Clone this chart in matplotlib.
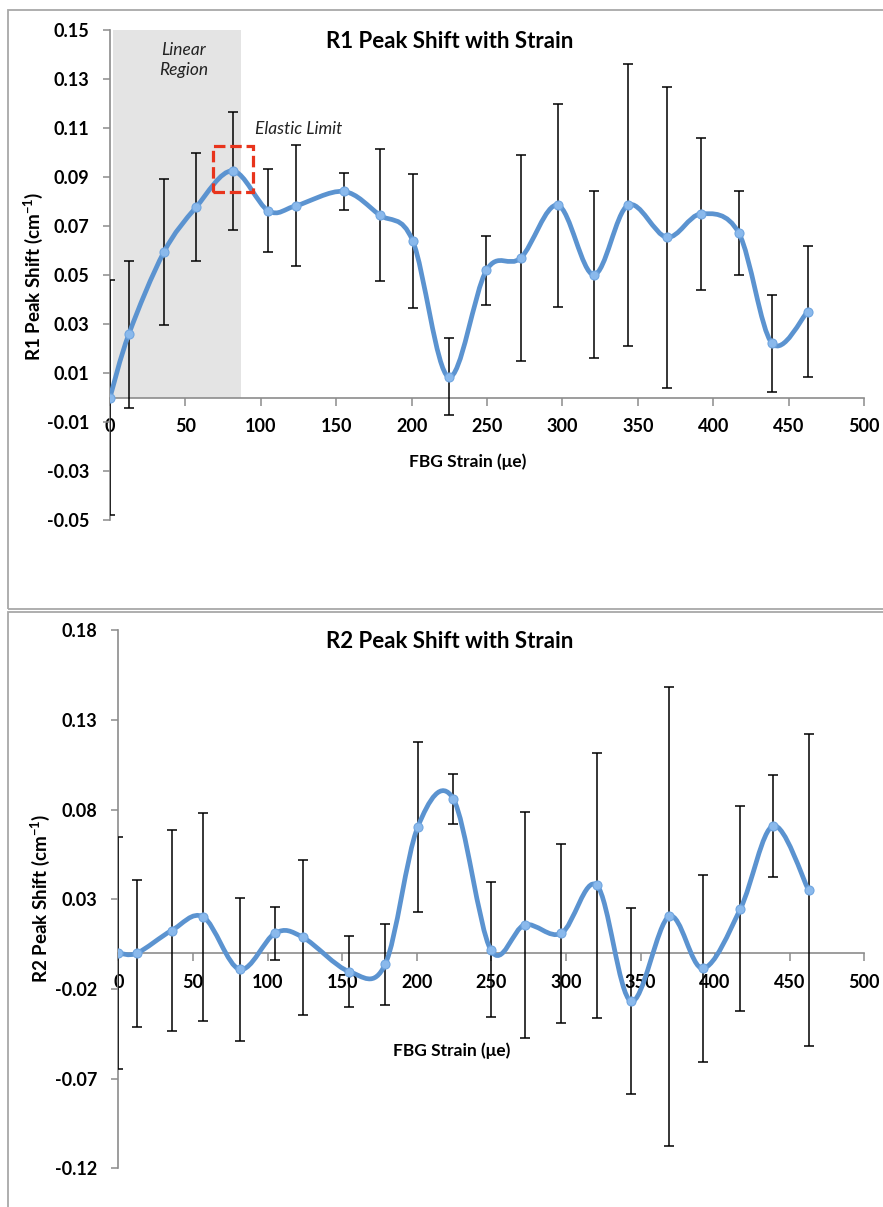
import numpy as np
import matplotlib
matplotlib.use("Agg")
import matplotlib.pyplot as plt
from matplotlib.path import Path
from matplotlib.patches import PathPatch, Rectangle

# -----------------------------
# DATA
# -----------------------------
strain = [0, 12.5, 35.7, 57, 81.3, 105, 123.5, 154.9, 178.8, 200.7, 224.5,
          249.6, 272.4, 297, 320.8, 343.5, 369.2, 391.8, 417, 439, 462.6]

r1_shift = [0.0, 0.0259, 0.0593, 0.0776, 0.0925, 0.0762, 0.0783, 0.0841, 0.0745,
            0.064, 0.0084, 0.0519, 0.057, 0.0785, 0.0501, 0.0785, 0.0654,
            0.0749, 0.0671, 0.0221, 0.035]
r1_err = [0.048, 0.030, 0.0297, 0.022, 0.024, 0.017, 0.0248, 0.0075, 0.027,
          0.0273, 0.0157, 0.014, 0.042, 0.0415, 0.034, 0.0575, 0.0615, 0.0312,
          0.0172, 0.0197, 0.0268]

r2_shift = [0.0, 0.0, 0.0126, 0.0201, -0.0091, 0.0111, 0.0089, -0.0104, -0.0063,
            0.0704, 0.086, 0.0018, 0.0158, 0.0111, 0.0377, -0.0268, 0.0205,
            -0.0085, 0.0248, 0.071, 0.0352]
r2_err = [0.0645, 0.041, 0.056, 0.058, 0.040, 0.0147, 0.0432, 0.0198, 0.0228,
          0.0475, 0.0138, 0.0376, 0.063, 0.05, 0.074, 0.052, 0.128, 0.052,
          0.057, 0.0283, 0.0869]

x_ticks = [0, 50, 100, 150, 200, 250, 300, 350, 400, 450, 500]
r1_yticks = [-0.05, -0.03, -0.01, 0.01, 0.03, 0.05, 0.07, 0.09, 0.11, 0.13, 0.15]
r2_yticks = [-0.12, -0.07, -0.02, 0.03, 0.08, 0.13, 0.18]

linear_region = (2, 87)          # strain range of the shaded box
elastic_box = (68.5, 95, 0.0837, 0.1026)

# -----------------------------
# STYLE
# -----------------------------
FONT = "Lato"
plt.rcParams["font.family"] = [FONT, "DejaVu Sans"]
plt.rcParams["mathtext.fontset"] = "custom"
plt.rcParams["mathtext.rm"] = FONT
plt.rcParams["mathtext.bf"] = FONT + ":bold"

LINE_C = "#5b93d0"
MARK_C = "#8ab9ec"
AXIS_C = "#8c8c8c"
FRAME_C = "#a8a8a8"


def smooth_path(x, y):
    # Excel-like smoothed line: Catmull-Rom as cubic Bezier segments
    pts = np.column_stack([x, y]).astype(float)
    n = len(pts)
    verts = [pts[0]]
    codes = [Path.MOVETO]
    for i in range(n - 1):
        p0 = pts[i - 1] if i > 0 else pts[i]
        p1 = pts[i]
        p2 = pts[i + 1]
        p3 = pts[i + 2] if i + 2 < n else pts[i + 1]
        verts += [p1 + (p2 - p0) / 6, p2 - (p3 - p1) / 6, p2]
        codes += [Path.CURVE4] * 3
    return Path(verts, codes)


def draw_panel(ax, x, y, err, yticks):
    # spine position first: moving it resets the tick labels
    for s in ["top", "right"]:
        ax.spines[s].set_visible(False)
    ax.spines["bottom"].set_position(("data", 0))
    for s in ["bottom", "left"]:
        ax.spines[s].set_color(AXIS_C)
        ax.spines[s].set_linewidth(1.2)

    ax.errorbar(x, y, yerr=err, fmt="none", ecolor="black", elinewidth=1.1,
                capsize=3.5, capthick=1.1, zorder=3)
    ax.add_patch(PathPatch(smooth_path(x, y), fill=False, ec=LINE_C, lw=3.4,
                           capstyle="round", joinstyle="round", zorder=4))
    ax.plot(x, y, ls="none", marker="o", ms=6.5, mfc=MARK_C, mec="#6fa5e0",
            mew=0.8, zorder=5)

    ax.set_xlim(0, 500)
    ax.set_ylim(yticks[0], yticks[-1])
    ax.set_xticks(x_ticks)
    ax.set_xticklabels([str(t) for t in x_ticks], fontweight="bold", fontsize=13)
    ax.set_yticks(yticks)
    ax.set_yticklabels([f"{t:.2f}" for t in yticks], fontweight="bold", fontsize=13)

    ax.tick_params(axis="x", direction="out", length=6, width=1.1, color=AXIS_C, pad=9)
    ax.tick_params(axis="y", direction="out", length=5, width=1.1, color=AXIS_C, pad=10)
    ax.patch.set_visible(False)


# -----------------------------
# FIGURE
# -----------------------------
W, H = 883, 1207
fig = plt.figure(figsize=(W / 100, H / 100), dpi=100)

# panel frames
fig.add_artist(Rectangle((8 / W, 1 - 609 / H), 1.0, (609 - 9.5) / H, transform=fig.transFigure,
                         fill=False, ec=FRAME_C, lw=1.3))
fig.add_artist(Rectangle((8 / W, -0.1), 1.0, 0.1 + 1 - 611.5 / H, transform=fig.transFigure,
                         fill=False, ec=FRAME_C, lw=1.3))

# top panel
ax1 = fig.add_axes([110 / W, 1 - 520 / H, 754 / W, 490 / H])
ax1.add_patch(Rectangle((linear_region[0], 0), linear_region[1] - linear_region[0], 0.15,
                        fc="#e4e4e4", ec="none", zorder=1))
draw_panel(ax1, strain, r1_shift, r1_err, r1_yticks)
bx0, bx1, by0, by1 = elastic_box
ax1.add_patch(Rectangle((bx0, by0), bx1 - bx0, by1 - by0, fill=False, ec="#e8341c",
                        lw=2.3, ls=(0, (3.6, 1.5)), zorder=6))
ax1.text(49, 0.142, "Linear", style="italic", fontsize=12.5, ha="center", va="center", color="#222222")
ax1.text(49, 0.1335, "Region", style="italic", fontsize=12.5, ha="center", va="center", color="#222222")
ax1.text(125, 0.1097, "Elastic Limit", style="italic", fontsize=12.5, ha="center", va="center",
         color="#222222")

# bottom panel
ax2 = fig.add_axes([118.4 / W, 1 - 1168.3 / H, 745.9 / W, (1168.3 - 630.3) / H])
draw_panel(ax2, strain, r2_shift, r2_err, r2_yticks)

# titles and axis labels
fig.text(450 / W, 1 - 41 / H, "R1 Peak Shift with Strain", fontsize=16, fontweight="bold",
         ha="center", va="center")
fig.text(450 / W, 1 - 641 / H, "R2 Peak Shift with Strain", fontsize=16, fontweight="bold",
         ha="center", va="center")
fig.text(33 / W, 1 - 276 / H, r"R1 Peak Shift (cm$^{\mathbf{-1}}$)", fontsize=13.5,
         fontweight="bold", rotation=90, ha="center", va="center")
fig.text(40 / W, 1 - 898 / H, r"R2 Peak Shift (cm$^{\mathbf{-1}}$)", fontsize=13.5,
         fontweight="bold", rotation=90, ha="center", va="center")
fig.text(468 / W, 1 - 462 / H, "FBG Strain (μe)", fontsize=12.5, fontweight="bold",
         ha="center", va="center")
fig.text(452 / W, 1 - 1051 / H, "FBG Strain (μe)", fontsize=12.5, fontweight="bold",
         ha="center", va="center")

fig.savefig("out.png", dpi=100)
